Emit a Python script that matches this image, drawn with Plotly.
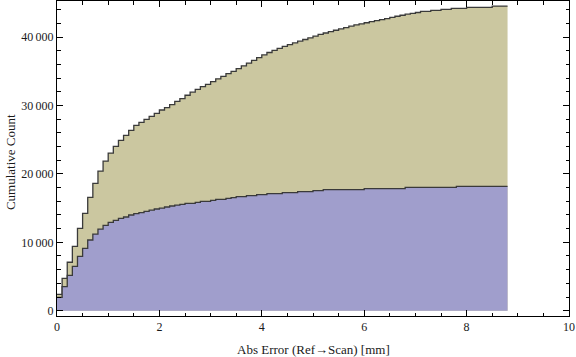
import plotly.graph_objects as go

# ---- data (cumulative counts per 0.1 mm bin, 0 .. 8.8 mm) ----
bin_width = 0.1
upper_counts = [
    2400, 4740, 7080, 9410, 12050, 14240, 16580, 18630, 20420, 21880,
    23050, 24030, 24910, 25640, 26370, 27100, 27540, 27980, 28420, 28860,
    29340, 29680, 30120, 30600, 31000, 31500, 31950, 32350, 32750, 33100,
    33500, 33900, 34250, 34650, 35000, 35400, 35800, 36200, 36600, 37000,
    37400, 37750, 38050, 38350, 38650, 38900, 39150, 39400, 39650, 39900,
    40150, 40400, 40600, 40800, 41000, 41200, 41400, 41600, 41800, 41950,
    42100, 42250, 42400, 42550, 42700, 42880, 43050, 43200, 43350, 43460,
    43600, 43750, 43750, 43900, 43900, 44050, 44050, 44190, 44190, 44190,
    44340, 44340, 44340, 44340, 44340, 44540, 44540, 44540,
]
lower_counts = [
    1960, 3510, 5170, 6490, 7950, 9120, 10340, 11210, 11940, 12480,
    12920, 13210, 13500, 13700, 13990, 14180, 14330, 14530, 14700, 14870,
    15010, 15160, 15310, 15450, 15550, 15700, 15700, 15850, 15990, 15990,
    16140, 16280, 16280, 16430, 16530, 16670, 16670, 16820, 16820, 16960,
    16960, 17110, 17110, 17110, 17260, 17260, 17260, 17400, 17400, 17400,
    17550, 17550, 17690, 17690, 17690, 17690, 17690, 17690, 17690, 17690,
    17840, 17840, 17840, 17840, 17840, 17840, 17840, 17840, 18040, 18040,
    18040, 18040, 18040, 18040, 18040, 18040, 18040, 18040, 18190, 18190,
    18190, 18190, 18190, 18190, 18190, 18190, 18190, 18190,
]
x_tickvals = [0, 2, 4, 6, 8, 10]
x_ticktext = ["0", "2", "4", "6", "8", "10"]
y_tickvals = [0, 10000, 20000, 30000, 40000]
y_ticktext = ["0", "10\u2009000", "20\u2009000", "30\u2009000", "40\u2009000"]
x_title = "Abs Error (Ref\u2192Scan) [mm]"
y_title = "Cumulative Count"

# ---- build step coordinates ----
def steps(counts):
    xs = [round(i * bin_width, 10) for i in range(len(counts) + 1)]
    ys = list(counts) + [counts[-1]]
    return xs, ys

ux, uy = steps(upper_counts)
lx, ly = steps(lower_counts)

fig = go.Figure()
fig.add_trace(go.Scatter(
    x=ux, y=uy, mode="lines", line_shape="hv",
    line=dict(color="#3a3a3a", width=1.3),
    fill="tozeroy", fillcolor="rgb(203,199,160)", hoverinfo="skip",
))
fig.add_trace(go.Scatter(
    x=lx, y=ly, mode="lines", line_shape="hv",
    line=dict(color="#3a3a3a", width=1.3),
    fill="tozeroy", fillcolor="rgb(160,158,204)", hoverinfo="skip",
))

font_family = "Liberation Serif"
tcol = "#1a1a1a"
fig.update_layout(
    width=576, height=357,
    margin=dict(l=57, r=7, t=1, b=41),
    paper_bgcolor="white", plot_bgcolor="white",
    showlegend=False,
    font=dict(family=font_family, size=12, color=tcol),
)
fig.update_xaxes(
    range=[0, 10], showgrid=False, zeroline=False, automargin=False,
    showline=True, linecolor="black", linewidth=1, mirror="allticks",
    ticks="inside", ticklen=6, tickcolor="black", tickwidth=1,
    tickvals=x_tickvals, ticktext=x_ticktext,
    minor=dict(ticks="inside", dtick=0.5, ticklen=3.5, tickcolor="black", showgrid=False),
    tickfont=dict(family=font_family, size=12, color=tcol),
)
fig.update_yaxes(
    range=[-775, 45280], showgrid=False, zeroline=False, automargin=False,
    showline=True, linecolor="black", linewidth=1, mirror="allticks",
    ticks="inside", ticklen=6, tickcolor="black", tickwidth=1,
    tickvals=y_tickvals, ticktext=y_ticktext,
    minor=dict(ticks="inside", dtick=2000, tick0=0, ticklen=3.5, tickcolor="black", showgrid=False),
    tickfont=dict(family=font_family, size=12, color=tcol),
)
fig.add_annotation(
    text=x_title, xref="paper", yref="paper", x=0.5, y=-0.105,
    xanchor="center", yanchor="middle", showarrow=False,
    font=dict(family=font_family, size=13, color=tcol),
)
fig.add_annotation(
    text=y_title, xref="paper", yref="paper", x=-0.091, y=0.49,
    xanchor="center", yanchor="middle", showarrow=False, textangle=-90,
    font=dict(family=font_family, size=13, color=tcol),
)

fig.write_html(
    "out.html",
    config={"displayModeBar": False, "staticPlot": True},
    post_script="document.body.style.margin='0';document.body.style.overflow='hidden';",
)
